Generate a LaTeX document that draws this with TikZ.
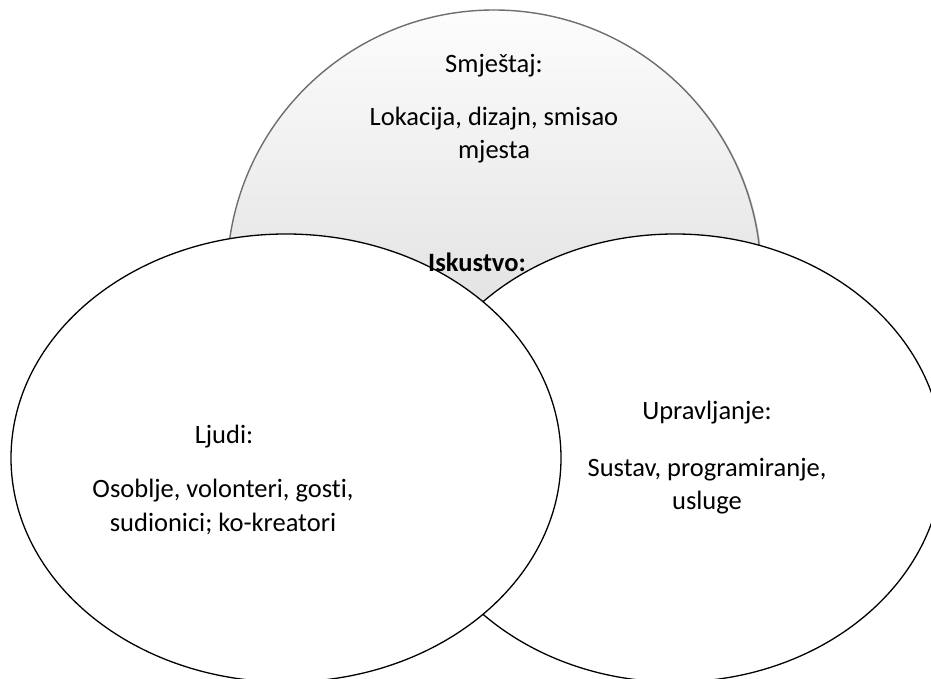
\documentclass[tikz,border=0pt]{standalone}
\usepackage{fontspec}
\setmainfont{Carlito}[Ligatures=NoCommon]
\usetikzlibrary{shapes.geometric, shadows}

\tikzset{
	venn/.style={ellipse, draw=black, line width=1.3pt, fill=white, inner sep=0pt},
	txt/.style={font=\fontsize{26.5}{33.5}\selectfont, align=center, text=black},
}

\begin{document}
\begin{tikzpicture}[x=1pt,y=-1pt]
				\useasboundingbox (0,0) rectangle (931,679);
				\clip (0,0) rectangle (931,679);
				
				% gornji krug
				\node [circle, minimum size=534pt, inner sep=0pt,
				draw=black!57, line width=1.4pt,
				top color=gray!2, bottom color=gray!38,
				drop shadow={shadow xshift=1.5pt, shadow yshift=-0.5pt, opacity=0.35}]
				(place) at (494,277) {};
				
				% donji elipse
				\node [venn, minimum width=536pt, minimum height=448pt] (mgmt) at (675,458) {};
				\node [venn, minimum width=550pt, minimum height=448pt] (people) at (286,458) {};
				
				\node [txt] (placehead) at (494,66) {Smještaj:};
				\node [txt] (placebody) at (494,135) {Lokacija, dizajn, smisao\\mjesta};
				
				\node [txt] (core) at (477,262) {\textbf{Iskustvo:}};
				
				\node [txt] (peoplehead) at (224,437) {Ljudi:};
				\node [txt] (peoplebody) at (223,507) {Osoblje, volonteri, gosti,\\sudionici; ko-kreatori};
				
				\node [txt] (mgmthead) at (707,413) {Upravljanje:};
				\node [txt] (mgmtbody) at (707,486) {Sustav, programiranje,\\usluge};
			\end{tikzpicture}
\end{document}
